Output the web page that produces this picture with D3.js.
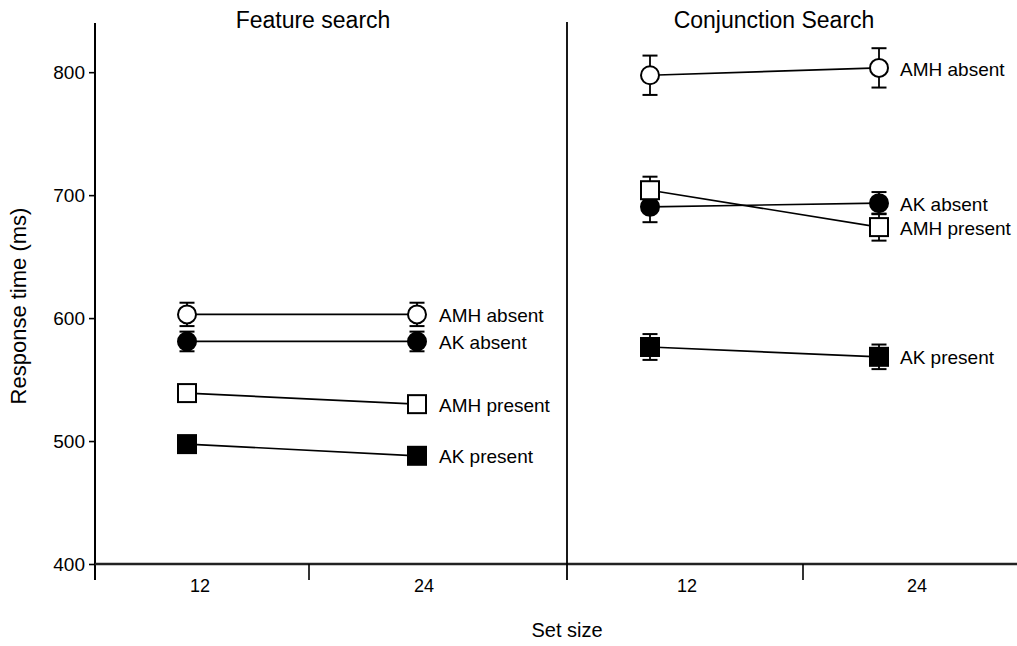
<!DOCTYPE html>
<html>
<head>
<meta charset="utf-8">
<script src="https://cdn.jsdelivr.net/npm/d3@7"></script>
<style>
  body { margin: 0; background: #fff; }
  svg { display: block; font-family: "Liberation Sans", Arial, Helvetica, sans-serif; }
</style>
</head>
<body>
<svg id="chart" width="1017" height="646"></svg>
<script>
// ---- data ----
const panels = ["Feature search", "Conjunction Search"];
const setSizes = [12, 24];
const seriesNames = ["AMH absent", "AK absent", "AMH present", "AK present"];
const seriesShapes = ["circle", "circle", "square", "square"];
const seriesFilled = [false, true, false, true];
// mean RT (ms) per panel per series at set size 12, 24
const featureMeans = [[603, 603], [581, 581], [539, 530], [497.5, 488]];
const conjunctionMeans = [[797.5, 803.5], [690.5, 693.5], [704, 674], [576.5, 568.5]];
// error bar half-widths (ms)
const featureErrors = [[9.5, 9.5], [8, 8], [5, 5], [4, 4]];
const conjunctionErrors = [[16, 16], [12.5, 9], [11, 11], [10.5, 10]];
const yTicks = [400, 500, 600, 700, 800];
const yDomain = [400, 840];

const means = [featureMeans, conjunctionMeans];
const errors = [featureErrors, conjunctionErrors];

// ---- layout ----
const svg = d3.select("#chart");
const axisY0 = 564, axisTop = 23;
const xLeft = 95, xDivider = 567, xRight = 1017;
const y = d3.scaleLinear().domain(yDomain).range([axisY0, axisTop]);

const markerRange = [[187, 417], [650, 879]];
const labelRange = [[200, 424], [687, 917]];
const panelTicks = [309, 803];
const seriesLabelX = [439, 900];
const titleX = [313, 774];

const ink = "#000";

// y axis
const yAxis = d3.axisLeft(y).tickValues(yTicks).tickSize(6).tickSizeOuter(0).tickPadding(4);
const gy = svg.append("g").attr("transform", `translate(${xLeft},0)`).call(yAxis);
gy.select(".domain").remove();
gy.selectAll(".tick line").attr("stroke", ink).attr("stroke-width", 1.6);
gy.selectAll(".tick text").attr("font-size", 19).attr("fill", ink).attr("font-family", "Liberation Sans, Arial, sans-serif");
svg.append("line").attr("x1", xLeft).attr("x2", xLeft).attr("y1", axisTop).attr("y2", 580)
  .attr("stroke", ink).attr("stroke-width", 2);

// x axis baseline
svg.append("line").attr("x1", xLeft).attr("x2", xRight).attr("y1", axisY0).attr("y2", axisY0)
  .attr("stroke", "#222").attr("stroke-width", 2.4);
// divider
svg.append("line").attr("x1", xDivider).attr("x2", xDivider).attr("y1", 22).attr("y2", 580)
  .attr("stroke", ink).attr("stroke-width", 1.8);

// y axis label
svg.append("text").attr("transform", `translate(26,306) rotate(-90)`)
  .attr("text-anchor", "middle").attr("font-size", 22).attr("fill", ink).text("Response time (ms)");
// x axis label
svg.append("text").attr("x", 567).attr("y", 637).attr("text-anchor", "middle")
  .attr("font-size", 20).attr("fill", ink).text("Set size");

panels.forEach((title, p) => {
  const x = d3.scaleLinear().domain(d3.extent(setSizes)).range(markerRange[p]);
  const xl = d3.scalePoint().domain(setSizes).range(labelRange[p]);
  const g = svg.append("g");

  // panel title
  g.append("text").attr("x", titleX[p]).attr("y", 28).attr("text-anchor", "middle")
    .attr("font-size", 23).attr("fill", ink).text(title);

  // mid tick
  g.append("line").attr("x1", panelTicks[p]).attr("x2", panelTicks[p]).attr("y1", axisY0).attr("y2", 580)
    .attr("stroke", ink).attr("stroke-width", 1.6);
  // tick labels
  g.selectAll("text.xt").data(setSizes).join("text").attr("class", "xt")
    .attr("x", d => xl(d)).attr("y", 586).attr("dy", "0.35em").attr("text-anchor", "middle")
    .attr("font-size", 18).attr("fill", ink).text(d => d);

  seriesNames.forEach((name, s) => {
    const pts = setSizes.map((ss, i) => ({ ss, v: means[p][s][i], e: errors[p][s][i] }));
    // error bars
    const cap = 7.5;
    pts.forEach(d => {
      const cx = x(d.ss);
      g.append("line").attr("x1", cx).attr("x2", cx).attr("y1", y(d.v + d.e)).attr("y2", y(d.v - d.e))
        .attr("stroke", ink).attr("stroke-width", 1.8);
      [d.v + d.e, d.v - d.e].forEach(vv => {
        g.append("line").attr("x1", cx - cap).attr("x2", cx + cap).attr("y1", y(vv)).attr("y2", y(vv))
          .attr("stroke", ink).attr("stroke-width", 2);
      });
    });
    // line
    g.append("path").datum(pts)
      .attr("d", d3.line().x(d => x(d.ss)).y(d => y(d.v)))
      .attr("fill", "none").attr("stroke", ink).attr("stroke-width", 1.7);
    // markers
    pts.forEach(d => {
      const cx = x(d.ss), cy = y(d.v);
      const fill = seriesFilled[s] ? ink : "#fff";
      if (seriesShapes[s] === "circle") {
        g.append("circle").attr("cx", cx).attr("cy", cy).attr("r", 9)
          .attr("fill", fill).attr("stroke", ink).attr("stroke-width", 2);
      } else {
        g.append("rect").attr("x", cx - 9).attr("y", cy - 9).attr("width", 18).attr("height", 18)
          .attr("fill", fill).attr("stroke", ink).attr("stroke-width", 2);
      }
    });
    // series label
    g.append("text").attr("x", seriesLabelX[p]).attr("y", y(pts[1].v) + 1).attr("dy", "0.35em")
      .attr("font-size", 19).attr("fill", ink).text(name);
  });
});
</script>
</body>
</html>
